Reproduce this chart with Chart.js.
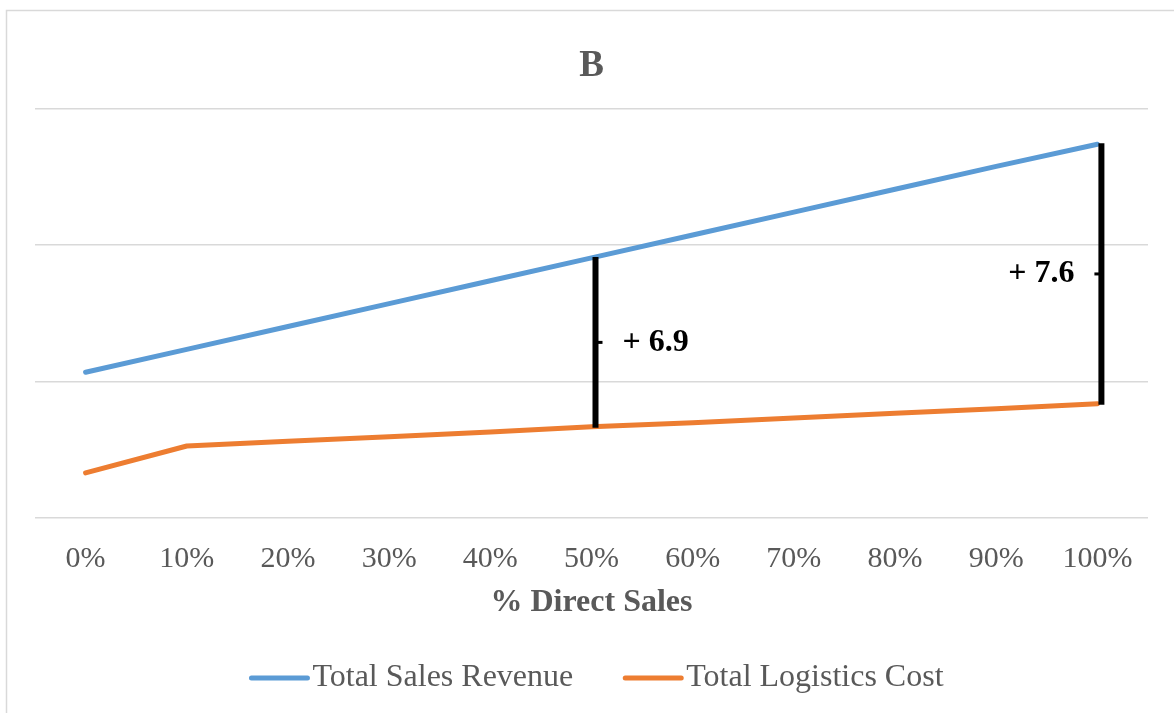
<!DOCTYPE html>
<html>
<head>
<meta charset="utf-8">
<title>B</title>
<script src="https://cdn.jsdelivr.net/npm/chart.js@4.4.1/dist/chart.umd.min.js"></script>
<style>
  html, body { margin: 0; padding: 0; background: #ffffff; }
  #wrap { position: relative; width: 1174px; height: 713px; }
</style>
</head>
<body>
<div id="wrap"><canvas id="chart"></canvas></div>
<script>
// Share of direct sales along the x axis
const categories = ['0%', '10%', '20%', '30%', '40%', '50%', '60%', '70%', '80%', '90%', '100%'];

// Series values
const salesRevenue  = [4.27, 4.94, 5.61, 6.28, 6.95, 7.62, 8.29, 8.96, 9.63, 10.30, 10.95];
const logisticsCost = [1.32, 2.11, 2.25, 2.38, 2.52, 2.67, 2.79, 2.93, 3.07, 3.20, 3.35];

// Gap markers: category index, label, side of the label
const gapIndex  = [5, 10];
const gapLabels = ['+ 6.9', '+ 7.6'];
const gapSides  = ['right', 'left'];

const SERIF = "'Liberation Serif', 'Times New Roman', Times, serif";
const TEXT = '#595959';
const BLUE = '#5B9BD5';
const ORANGE = '#ED7D31';

// Light frame around the chart
const framePlugin = {
  id: 'frame',
  beforeDraw(chart) {
    const ctx = chart.ctx;
    ctx.save();
    ctx.strokeStyle = '#d9d9d9';
    ctx.lineWidth = 1.5;
    ctx.beginPath();
    ctx.moveTo(6.5, chart.height);
    ctx.lineTo(6.5, 10.5);
    ctx.lineTo(chart.width, 10.5);
    ctx.stroke();
    ctx.restore();
  }
};

// Vertical bars showing the gap between revenue and cost
const gapPlugin = {
  id: 'gaps',
  afterDatasetsDraw(chart) {
    const ctx = chart.ctx;
    const xs = chart.scales.x, ys = chart.scales.y;
    ctx.save();
    gapIndex.forEach((idx, i) => {
      const x = xs.getPixelForValue(idx) + 4;
      const yTop = ys.getPixelForValue(salesRevenue[idx]);
      const yBot = ys.getPixelForValue(logisticsCost[idx]);
      ctx.strokeStyle = '#000000';
      ctx.lineWidth = 6;
      ctx.lineCap = 'butt';
      ctx.beginPath();
      ctx.moveTo(x, yTop - 1);
      ctx.lineTo(x, yBot + 1);
      ctx.stroke();
      const yMid = (yTop + yBot) / 2;
      const dir = gapSides[i] === 'right' ? 1 : -1;
      ctx.lineWidth = 3;
      ctx.beginPath();
      ctx.moveTo(x, yMid);
      ctx.lineTo(x + dir * 7, yMid);
      ctx.stroke();
      ctx.fillStyle = '#000000';
      ctx.font = 'bold 32px ' + SERIF;
      ctx.textBaseline = 'middle';
      ctx.textAlign = dir > 0 ? 'left' : 'right';
      ctx.fillText(gapLabels[i], x + dir * 27, yMid);
    });
    ctx.restore();
  }
};

// Legend row under the axis title
const legendPlugin = {
  id: 'lineLegend',
  afterDraw(chart) {
    const ctx = chart.ctx;
    const ds = chart.data.datasets;
    const lineW = 60, gap = 3, itemGap = 50, y = 678;
    ctx.save();
    ctx.font = '32px ' + SERIF;
    const widths = ds.map(d => lineW + gap + ctx.measureText(d.label).width);
    const total = widths.reduce((a, b) => a + b, 0) + itemGap * (ds.length - 1);
    const ca = chart.chartArea;
    let x = (ca.left + ca.right) / 2 + 5 - total / 2;
    ds.forEach((d, i) => {
      ctx.strokeStyle = d.borderColor;
      ctx.lineWidth = 5;
      ctx.lineCap = 'round';
      ctx.beginPath();
      ctx.moveTo(x + 2, y);
      ctx.lineTo(x + lineW - 2, y);
      ctx.stroke();
      ctx.fillStyle = TEXT;
      ctx.textBaseline = 'middle';
      ctx.textAlign = 'left';
      ctx.fillText(d.label, x + lineW + gap, y);
      x += widths[i] + itemGap;
    });
    ctx.restore();
  }
};

new Chart(document.getElementById('chart'), {
  type: 'line',
  data: {
    labels: categories,
    datasets: [
      {
        label: 'Total Sales Revenue',
        data: salesRevenue,
        borderColor: BLUE,
        backgroundColor: BLUE,
        borderWidth: 5,
        borderCapStyle: 'round',
        borderJoinStyle: 'round',
        pointRadius: 0,
        tension: 0
      },
      {
        label: 'Total Logistics Cost',
        data: logisticsCost,
        borderColor: ORANGE,
        backgroundColor: ORANGE,
        borderWidth: 5,
        borderCapStyle: 'round',
        borderJoinStyle: 'round',
        pointRadius: 0,
        tension: 0
      }
    ]
  },
  options: {
    responsive: true,
    maintainAspectRatio: false,
    animation: false,
    layout: { padding: { left: 35, right: 26, top: 0, bottom: 80 } },
    plugins: {
      legend: { display: false },
      tooltip: { enabled: false },
      title: {
        display: true,
        text: 'B',
        color: TEXT,
        font: { family: SERIF, size: 37, weight: 'bold' },
        padding: { top: 44, bottom: 20 }
      }
    },
    scales: {
      x: {
        offset: true,
        grid: { display: false },
        border: { display: false },
        ticks: {
          color: TEXT,
          font: { family: SERIF, size: 30 },
          padding: 15,
          maxRotation: 0,
          autoSkip: false
        },
        title: {
          display: true,
          text: '% Direct Sales',
          color: TEXT,
          font: { family: SERIF, size: 32, weight: 'bold' },
          padding: { top: 0, bottom: 11 }
        },
        afterFit(scale) { scale.height = 115; }
      },
      y: {
        min: 0,
        max: 12,
        ticks: { display: false, stepSize: 4 },
        border: { display: false },
        grid: { color: '#d9d9d9', lineWidth: 1.5, drawTicks: false },
        afterFit(scale) { scale.width = 0; }
      }
    }
  },
  plugins: [framePlugin, gapPlugin, legendPlugin]
});
</script>
</body>
</html>
